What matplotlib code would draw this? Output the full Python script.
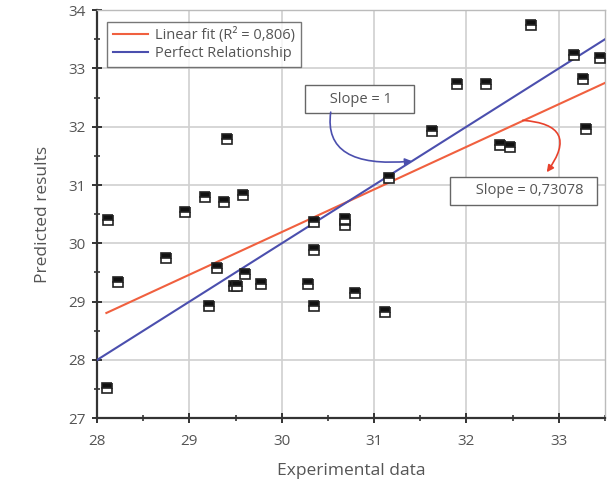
import matplotlib
matplotlib.use("Agg")
import matplotlib.pyplot as plt
import numpy as np
from matplotlib.ticker import MultipleLocator

# Experimental vs predicted values
experimental = [28.11, 28.12, 28.23, 28.75, 28.95, 29.17, 29.21, 29.30, 29.37,
                29.41, 29.48, 29.52, 29.58, 29.60, 29.77, 30.28, 30.35, 30.35,
                30.35, 30.68, 30.68, 30.79, 31.12, 31.16, 31.63, 31.90, 32.21,
                32.36, 32.47, 32.70, 33.16, 33.26, 33.30, 33.45]
predicted = [27.52, 30.40, 29.33, 29.75, 30.54, 30.79, 28.92, 29.57, 30.71,
             31.79, 29.27, 29.27, 30.83, 29.47, 29.30, 29.30, 28.92, 29.88,
             30.36, 30.42, 30.31, 29.15, 28.82, 31.12, 31.92, 32.73, 32.73,
             31.68, 31.65, 33.74, 33.23, 32.82, 31.96, 33.18]

fit_slope = 0.73078
fit_intercept = 8.27
fit_r2 = 0.806
fit_x_range = [28.1, 33.5]
ideal_x_range = [28.0, 33.5]

text_color = "#555555"
red = "#f0603f"
blue = "#4b4fae"

plt.rcParams["font.family"] = ["Open Sans", "DejaVu Sans"]

fig = plt.figure(figsize=(6.11, 4.84), dpi=100)
ax = fig.add_axes([0.159, 0.136, 0.831, 0.843])

fx = np.array(fit_x_range)
ax.plot(fx, fit_slope * fx + fit_intercept, color=red, lw=1.5,
        label=f"Linear fit (R² = {str(fit_r2).replace('.', ',')})", zorder=3)
ix = np.array(ideal_x_range)
ax.plot(ix, ix, color=blue, lw=1.5, label="Perfect Relationship", zorder=3)

ax.plot(experimental, predicted, linestyle="none", marker="s", markersize=7,
        fillstyle="top", markerfacecolor="#111111", markerfacecoloralt="white",
        markeredgecolor="#222222", markeredgewidth=1.2, zorder=4)

ax.set_xlim(28, 33.5)
ax.set_ylim(27, 34)
ax.xaxis.set_major_locator(MultipleLocator(1))
ax.xaxis.set_minor_locator(MultipleLocator(0.5))
ax.yaxis.set_major_locator(MultipleLocator(1))
ax.yaxis.set_minor_locator(MultipleLocator(0.5))
ax.grid(True, which="major", color="#d0d0d0", lw=1.2)
ax.set_axisbelow(True)

for side in ("left", "bottom"):
    ax.spines[side].set_color("#333333")
    ax.spines[side].set_linewidth(1.6)
for side in ("top", "right"):
    ax.spines[side].set_color("#bbbbbb")
    ax.spines[side].set_linewidth(1.0)

ax.tick_params(which="major", direction="inout", length=7, width=1.4,
               color="#333333", labelcolor=text_color, labelsize=11)
ax.tick_params(axis="x", which="major", pad=8)
ax.tick_params(axis="y", which="major", pad=5)
ax.tick_params(which="minor", direction="inout", length=4, width=1.2,
               color="#333333")

ax.set_xlabel("Experimental data", color=text_color, fontsize=12.5, labelpad=10)
ax.set_ylabel("Predicted results", color=text_color, fontsize=12.5, labelpad=12)

leg = ax.legend(loc="upper left", bbox_to_anchor=(0.006, 0.99), frameon=True,
                fancybox=False, edgecolor="#555555", fontsize=10.5,
                labelcolor=text_color, handlelength=2.4, borderpad=0.4,
                labelspacing=0.2, handletextpad=0.45)
leg.get_frame().set_linewidth(1.0)

box = dict(boxstyle="square,pad=0.45", facecolor="white", edgecolor="#666666",
           lw=1.0)
ax.text(30.84, 32.47, "     Slope = 1    ", ha="center", va="center",
        fontsize=10.5, color=text_color, bbox=box, zorder=5)
ax.annotate("", xy=(31.41, 31.41), xytext=(30.53, 32.25),
            arrowprops=dict(arrowstyle="-|>", color=blue, lw=1.2,
                            connectionstyle="angle3,angleA=82,angleB=5",
                            shrinkA=0, shrinkB=0), zorder=5)
ax.text(32.62, 30.90, "     Slope = 0,73078  ", ha="center", va="center",
        fontsize=10.5, color=text_color, bbox=box, zorder=5)
ax.annotate("", xy=(32.87, 31.22), xytext=(32.61, 32.11),
            arrowprops=dict(arrowstyle="-|>", color="#e8412c", lw=1.2,
                            connectionstyle="arc3,rad=-0.9",
                            shrinkA=0, shrinkB=0), zorder=5)

fig.savefig("out.png", dpi=100)
